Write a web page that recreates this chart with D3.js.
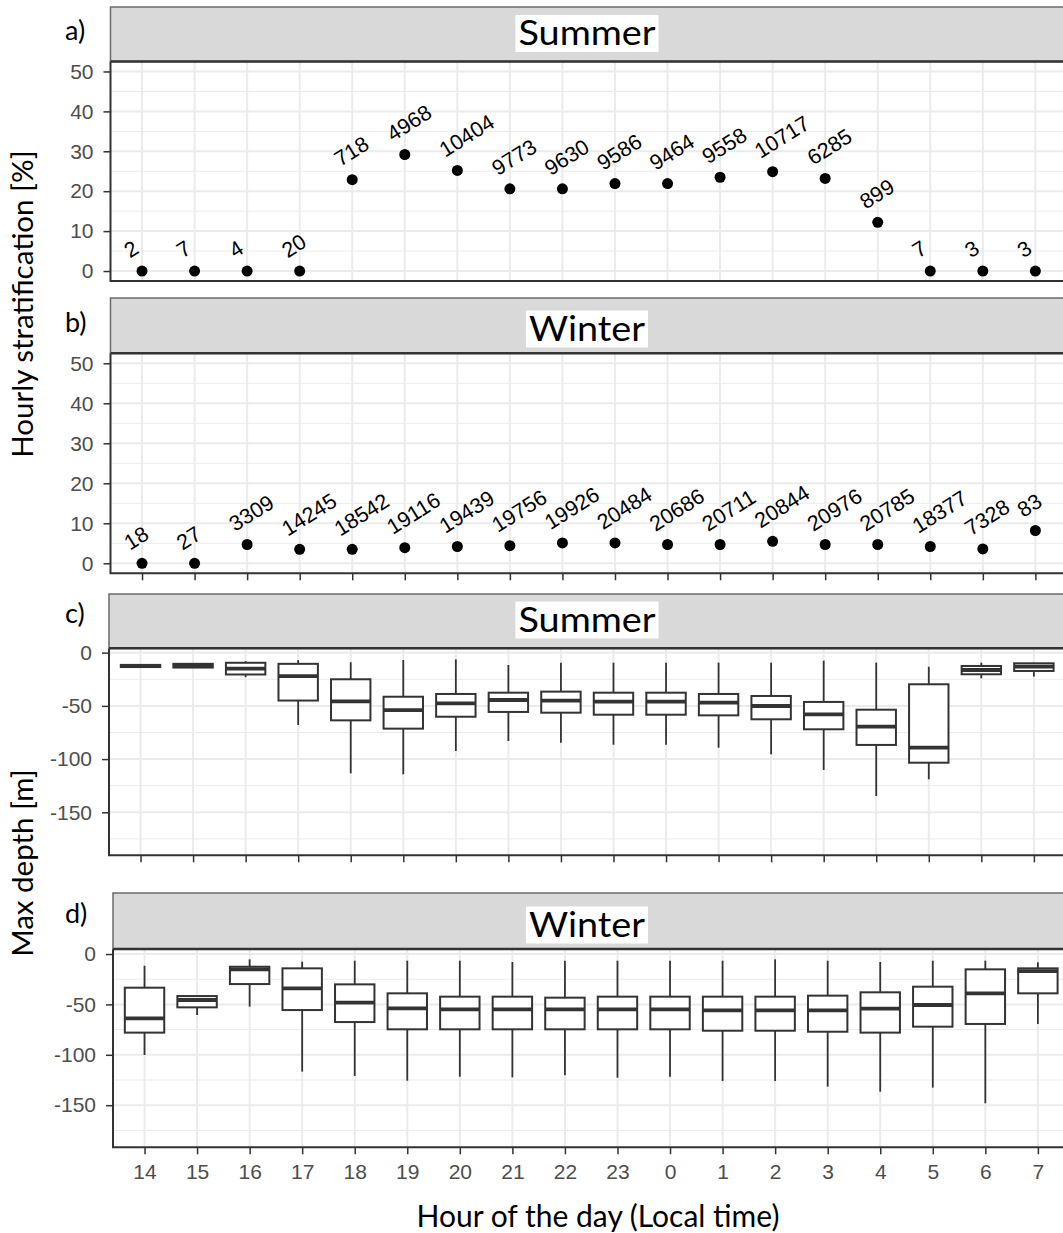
<!DOCTYPE html>
<html>
<head>
<meta charset="utf-8">
<script src="https://cdn.jsdelivr.net/npm/d3@7"></script>
<style>
  body { margin: 0; background: #fff; }
  svg { display: block; font-family: "Liberation Sans", Arial, sans-serif; }
</style>
</head>
<body>
<svg id="chart" width="1063" height="1233"></svg>
<script>
// hours of the day, local time (x categories)
const hours = ["14", "15", "16", "17", "18", "19", "20", "21", "22", "23", "0", "1", "2", "3", "4", "5", "6", "7"];

// a) summer stratification share [%] and number of profiles
const summerPct = [0, 0, 0, 0, 22.9, 29.2, 25.2, 20.6, 20.6, 21.9, 21.9, 23.5, 24.9, 23.2, 12.2, 0, 0, 0];
const summerN = [2, 7, 4, 20, 718, 4968, 10404, 9773, 9630, 9586, 9464, 9558, 10717, 6285, 899, 7, 3, 3];

// b) winter stratification share [%] and number of profiles
const winterPct = [0, 0, 4.7, 3.5, 3.5, 3.9, 4.2, 4.4, 5.1, 5.1, 4.7, 4.7, 5.5, 4.7, 4.7, 4.2, 3.6, 8.2];
const winterN = [18, 27, 3309, 14245, 18542, 19116, 19439, 19756, 19926, 20484, 20686, 20711, 20844, 20976, 20785, 18377, 7328, 83];

// c) summer max depth [m] box stats
const summerLow = [-14, -14.5, -23, -68, -113.4, -114.3, -92.4, -83, -84.6, -86.5, -86.5, -89.3, -95.5, -110.2, -134.7, -119, -24.1, -22.5];
const summerQ1 = [-13.5, -14, -20.5, -45, -63.6, -71.4, -60.2, -55.7, -56.4, -58.3, -58.3, -58.9, -62.6, -72, -86.7, -103.4, -20.3, -17.2];
const summerMed = [-12.5, -12.5, -15, -22, -45.7, -53.9, -47.6, -44.5, -45.1, -46, -46, -47, -50.1, -57.9, -69.5, -89.3, -16.3, -13.2];
const summerQ3 = [-11.5, -10.5, -9.5, -10.5, -25, -41.4, -38.8, -37.6, -36.6, -37.6, -37.6, -38.8, -40.7, -46.3, -53.6, -29.7, -12.5, -10];
const summerHigh = [-11, -10, -8, -7, -9, -6.9, -6.3, -11.6, -9.4, -9.4, -9.4, -9.4, -9.4, -7.5, -9.4, -13.2, -9.4, -9.4];

// d) winter max depth [m] box stats
const winterLow = [-100.2, -60.5, -52.2, -116.7, -121, -125.7, -121.7, -122.4, -120.4, -122.7, -121.7, -126, -126, -131.6, -136.6, -132.6, -148.1, -69.4];
const winterQ1 = [-78, -52.9, -29.8, -55.6, -67.5, -74.7, -74.7, -74.7, -74.7, -74.7, -74.7, -76.1, -76.1, -77.1, -78, -72.1, -69.4, -39];
const winterMed = [-63.8, -45.6, -15.2, -34, -48.3, -53.9, -54.9, -54.9, -54.9, -54.9, -54.9, -55.9, -55.9, -55.9, -54.2, -50.6, -39, -16.9];
const winterQ3 = [-33.4, -41.7, -12.6, -14.2, -30.1, -39, -42.3, -42.3, -43.3, -42.3, -42.3, -42.3, -42.3, -41.3, -38, -32.4, -15.2, -14.2];
const winterHigh = [-11.6, -41.7, -5.3, -7.6, -6.6, -6.6, -6.6, -7.9, -6.6, -6.6, -6.6, -6.6, -5.3, -6.6, -7.9, -6.6, -6.6, -8.2];

const pctTicks = [0, 10, 20, 30, 40, 50];
const pctMinor = [5, 15, 25, 35, 45];
const depthTicks = [0, -50, -100, -150];
const depthMinor = [-25, -75, -125, -175];

const svg = d3.select("#chart");
const step = 52.55;
const titleFont = "Lato, 'Open Sans', sans-serif";

const panels = [
  { tag: "a)", tagY: 40, strip: "Summer", stripBase: 45, left: 110.5, stripTop: 7, top: 61.5, bottom: 281,
    yDomain: [-2.5, 52.5], ticks: pctTicks, minor: pctMinor, xTicks: false, xLabels: false,
    kind: "dot", values: summerPct, counts: summerN },
  { tag: "b)", tagY: 332, strip: "Winter", stripBase: 340.5, left: 110.5, stripTop: 298, top: 353.3, bottom: 573.3,
    yDomain: [-2.5, 52.5], ticks: pctTicks, minor: pctMinor, xTicks: true, xLabels: false,
    kind: "dot", values: winterPct, counts: winterN },
  { tag: "c)", tagY: 623, strip: "Summer", stripBase: 631.5, left: 109, stripTop: 594, top: 648.3, bottom: 855.3,
    yDomain: [-190.4, 4.1], ticks: depthTicks, minor: depthMinor, xTicks: true, xLabels: false,
    kind: "box", low: summerLow, q1: summerQ1, med: summerMed, q3: summerQ3, high: summerHigh },
  { tag: "d)", tagY: 923, strip: "Winter", stripBase: 936.5, left: 113, stripTop: 893, top: 949, bottom: 1147.3,
    yDomain: [-191.8, 5], ticks: depthTicks, minor: depthMinor, xTicks: true, xLabels: true,
    kind: "box", low: winterLow, q1: winterQ1, med: winterMed, q3: winterQ3, high: winterHigh }
];

function drawPanel(p) {
  const right = p.left + 18.2 * step;
  const x = d3.scalePoint().domain(hours).range([p.left, right]).padding(0.6);
  const y = d3.scaleLinear().domain(p.yDomain).range([p.bottom, p.top]);
  const g = svg.append("g");

  // grid
  g.append("g").selectAll("line").data(p.minor.filter(d => y(d) > p.top && y(d) < p.bottom)).join("line")
    .attr("x1", p.left).attr("x2", right)
    .attr("y1", d => y(d)).attr("y2", d => y(d))
    .attr("stroke", "#EBEBEB").attr("stroke-width", 1);
  g.append("g").selectAll("line").data(p.ticks).join("line")
    .attr("x1", p.left).attr("x2", right)
    .attr("y1", d => y(d)).attr("y2", d => y(d))
    .attr("stroke", "#EBEBEB").attr("stroke-width", 2);
  g.append("g").selectAll("line").data(hours).join("line")
    .attr("x1", d => x(d)).attr("x2", d => x(d))
    .attr("y1", p.top).attr("y2", p.bottom)
    .attr("stroke", "#EBEBEB").attr("stroke-width", 2);

  if (p.kind === "dot") {
    const pts = hours.map((h, i) => ({ h, v: p.values[i], n: p.counts[i] }));
    g.append("g").selectAll("circle").data(pts).join("circle")
      .attr("cx", d => x(d.h)).attr("cy", d => y(d.v)).attr("r", 5.5)
      .attr("fill", "#000");
    g.append("g").selectAll("text").data(pts).join("text")
      .attr("transform", d => `translate(${x(d.h) - 16},${y(d.v) - 19}) rotate(-32)`)
      .attr("dy", "0.35em")
      .attr("font-size", 21.5)
      .attr("fill", "#000")
      .text(d => d.n);
  } else {
    const bw = 0.75 * step;
    const boxes = hours.map((h, i) => ({ h, lo: p.low[i], q1: p.q1[i], med: p.med[i], q3: p.q3[i], hi: p.high[i] }));
    const bg = g.append("g").selectAll("g").data(boxes).join("g");
    bg.append("line")
      .attr("x1", d => x(d.h)).attr("x2", d => x(d.h))
      .attr("y1", d => y(d.hi)).attr("y2", d => y(d.lo))
      .attr("stroke", "#333").attr("stroke-width", 1.8);
    bg.append("rect")
      .attr("x", d => x(d.h) - bw / 2).attr("width", bw)
      .attr("y", d => y(d.q3)).attr("height", d => y(d.q1) - y(d.q3))
      .attr("fill", "#fff").attr("stroke", "#333").attr("stroke-width", 2);
    bg.append("line")
      .attr("x1", d => x(d.h) - bw / 2).attr("x2", d => x(d.h) + bw / 2)
      .attr("y1", d => y(d.med)).attr("y2", d => y(d.med))
      .attr("stroke", "#333").attr("stroke-width", 3.8);
  }

  // panel border
  g.append("path")
    .attr("d", `M${p.left},${p.top}V${p.bottom}H${right}`)
    .attr("fill", "none").attr("stroke", "#333").attr("stroke-width", 2);

  // strip
  g.append("rect")
    .attr("x", p.left).attr("y", p.stripTop)
    .attr("width", right - p.left).attr("height", p.top - p.stripTop)
    .attr("fill", "#D9D9D9").attr("stroke", "#6b6b6b").attr("stroke-width", 1.5);
  g.append("line")
    .attr("x1", p.left).attr("x2", right).attr("y1", p.top).attr("y2", p.top)
    .attr("stroke", "#333").attr("stroke-width", 2.5);

  const cx = 587;
  const lab = g.append("g");
  const box = lab.append("rect").attr("fill", "#fff");
  const txt = lab.append("text")
    .attr("x", cx).attr("y", p.stripBase)
    .attr("text-anchor", "middle")
    .attr("font-family", titleFont)
    .attr("font-size", 35)
    .attr("fill", "#000")
    .text(p.strip);
  const w = txt.node().getComputedTextLength() * 1.08;
  txt.attr("textLength", w).attr("lengthAdjust", "spacingAndGlyphs");
  box.attr("x", cx - w / 2 - 3).attr("width", w + 6)
    .attr("y", p.stripBase - 30).attr("height", 37);

  // tag
  svg.append("text")
    .attr("x", 65).attr("y", p.tagY)
    .attr("font-family", titleFont).attr("font-size", 27)
    .attr("fill", "#000")
    .text(p.tag);

  // y axis
  const ya = g.append("g").attr("transform", `translate(${p.left},0)`)
    .call(d3.axisLeft(y).tickValues(p.ticks).tickSize(7).tickPadding(10).tickFormat(d => String(d)));
  ya.select(".domain").remove();
  ya.selectAll(".tick line").attr("stroke", "#333").attr("stroke-width", 1.5);
  ya.selectAll(".tick text")
    .attr("fill", "#4D4D4D").attr("font-size", 21)
    .attr("font-family", "'Liberation Sans', Arial, sans-serif");

  // x axis
  if (p.xTicks) {
    const xa = g.append("g").attr("transform", `translate(0,${p.bottom})`)
      .call(d3.axisBottom(x).tickSize(7).tickPadding(10));
    xa.select(".domain").remove();
    xa.selectAll(".tick line").attr("stroke", "#333").attr("stroke-width", 1.5);
    if (p.xLabels) {
      xa.selectAll(".tick text")
        .attr("fill", "#4D4D4D").attr("font-size", 21)
        .attr("font-family", "'Liberation Sans', Arial, sans-serif");
    } else {
      xa.selectAll(".tick text").remove();
    }
  }
}

panels.forEach(drawPanel);

// axis titles
svg.append("text")
  .attr("transform", "translate(33,304) rotate(-90)")
  .attr("text-anchor", "middle")
  .attr("font-family", titleFont).attr("font-size", 29.5)
  .attr("fill", "#000")
  .text("Hourly stratification [%]");

svg.append("text")
  .attr("transform", "translate(33,863) rotate(-90)")
  .attr("text-anchor", "middle")
  .attr("font-family", titleFont).attr("font-size", 29.5)
  .attr("fill", "#000")
  .text("Max depth [m]");

svg.append("text")
  .attr("x", 598).attr("y", 1227)
  .attr("text-anchor", "middle")
  .attr("font-family", titleFont).attr("font-size", 30)
  .attr("fill", "#000")
  .text("Hour of the day (Local time)");
</script>
</body>
</html>
